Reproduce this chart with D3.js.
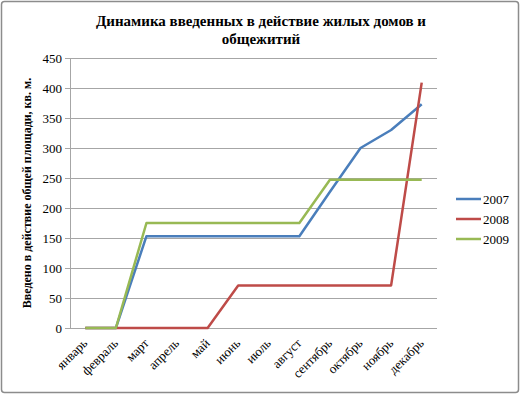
<!DOCTYPE html>
<html><head><meta charset="utf-8">
<script src="https://cdn.jsdelivr.net/npm/d3@7"></script>
<style>body{margin:0;background:#fff}svg{display:block}
svg text{font-family:"Liberation Serif","Times New Roman","DejaVu Serif",serif}</style>
</head><body><svg id="c" width="521" height="395"></svg>
<script>
const months = ["январь","февраль","март","апрель","май","июнь","июль","август","сентябрь","октябрь","ноябрь","декабрь"];
const s2007 = [0,0,153,153,153,153,153,153,227,300,330,373];
const s2008 = [0,0,0,0,0,71,71,71,71,71,71,409];
const s2009 = [0,0,175,175,175,175,175,175,247,247,247,247];
const seriesNames = ["2007","2008","2009"];
const colors = ["#4a7ebb","#be4b48","#98b954"];
const yTicks = [0,50,100,150,200,250,300,350,400,450];
const title = ["Динамика введенных в действие жилых домов и","общежитий"];
const yTitle = "Введено в действие общей площади, кв. м.";

const svg = d3.select("#c");
svg.append("rect").attr("x",1.5).attr("y",1.5).attr("width",517).attr("height",391)
  .attr("rx",3).attr("fill","#fff").attr("stroke","#8c8c8c").attr("stroke-width",1.5);

const L=70,R=437,T=58,B=328;
const x = d3.scaleBand().domain(months).range([L,R]);
const y = d3.scaleLinear().domain([0,450]).range([B,T]);

svg.append("g").selectAll("line").data(yTicks).join("line")
  .attr("x1",L-5).attr("x2",R).attr("y1",d=>Math.round(y(d))+0.5).attr("y2",d=>Math.round(y(d))+0.5)
  .attr("stroke","#a6a6a6").attr("stroke-width",1);
svg.append("line").attr("x1",L+0.5).attr("x2",L+0.5).attr("y1",T).attr("y2",B).attr("stroke","#a6a6a6");

const yAxis = d3.axisLeft(y).tickValues(yTicks).tickSize(0).tickPadding(8);
const ga = svg.append("g").attr("transform",`translate(${L},0)`).call(yAxis);
ga.attr("font-family",null);
ga.select(".domain").remove();
ga.selectAll("text").style("font-size","13px").attr("fill","#000");

const xAxis = d3.axisBottom(x).tickSize(0).tickPadding(0);
const gx = svg.append("g").attr("transform",`translate(0,${B})`).call(xAxis);
gx.attr("font-family",null);
gx.select(".domain").remove();
gx.selectAll("text").style("font-size","13px").attr("fill","#000")
  .attr("text-anchor","end").attr("dy",0).attr("y",0)
  .attr("transform","translate(3,16) rotate(-45)");

const line = d3.line().x((d,i)=>x(months[i])+x.bandwidth()/2).y(d=>y(d));
[s2007,s2008,s2009].forEach((s,k)=>{
  svg.append("path").attr("d",line(s)).attr("fill","none").attr("stroke",colors[k])
    .attr("stroke-width",2.5).attr("stroke-linejoin","round");
});

svg.append("g").selectAll("text").data(title).join("text")
  .attr("x",261).attr("y",(d,i)=>26+i*18).attr("text-anchor","middle")
  .style("font-weight","bold").style("font-size","15px").text(d=>d);

svg.append("text").attr("transform",`translate(31,${(T+B)/2}) rotate(-90)`)
  .attr("text-anchor","middle").style("font-weight","bold")
  .style("font-size","12px").text(yTitle);

const lg = svg.append("g");
seriesNames.forEach((n,k)=>{
  const yy = 199+k*20;
  lg.append("line").attr("x1",456).attr("x2",481).attr("y1",yy).attr("y2",yy)
    .attr("stroke",colors[k]).attr("stroke-width",2.5);
  lg.append("text").attr("x",483).attr("y",yy+5).style("font-size","13px").text(n);
});
</script></body></html>
